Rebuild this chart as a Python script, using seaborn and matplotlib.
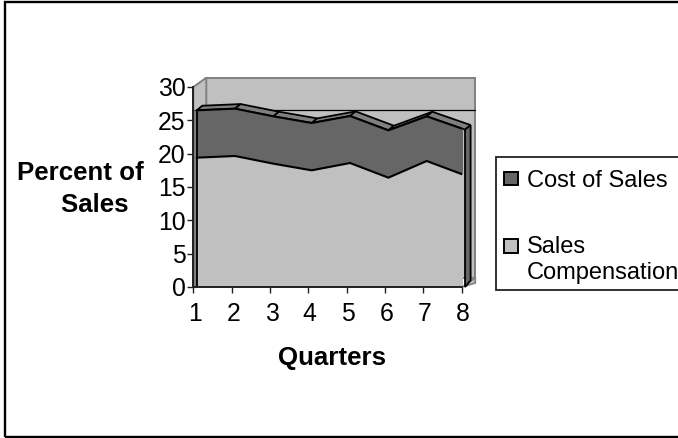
import matplotlib
matplotlib.use("Agg")
import matplotlib.pyplot as plt
from matplotlib.legend_handler import HandlerPatch
from matplotlib.patches import Patch, Polygon, Rectangle
from matplotlib.transforms import ScaledTranslation
import numpy as np
import pandas as pd
import seaborn as sns

quarters = [1, 2, 3, 4, 5, 6, 7, 8]
sales_compensation = [19.4, 19.65, 18.5, 17.5, 18.6, 16.4, 18.9, 16.75]
total_with_cost = [26.5, 26.75, 25.6, 24.6, 25.65, 23.5, 25.6, 23.6]
y_ticks = [0, 5, 10, 15, 20, 25, 30]
series_names = ["Cost of Sales", "Sales\nCompensation"]

DARK, LIGHT, TOP, WALL = "#666666", "#c0c0c0", "#808080", "#808080"
W, H = 678, 438
FS_LEGEND, FS_TICK, FS_BOLD = 17.0, 17.8, 18.6

sns.set_theme(style="white")
plt.rcParams["font.family"] = ["Liberation Sans", "DejaVu Sans"]

df = pd.DataFrame({"q": quarters, "comp": sales_compensation, "total": total_with_cost})

fig = plt.figure(figsize=(W / 100, H / 100), dpi=100, facecolor="white")
left_px, right_px, bottom_px, top_px = 193.3, 462.3, 287.0, 87.0
ax = fig.add_axes([left_px / W, 1 - bottom_px / H, (right_px - left_px) / W, (bottom_px - top_px) / H])
ax.patch.set_alpha(0)

px = 1 / 38.33   # data units per pixel in x
py = 30 / 200.0  # data units per pixel in y
tick_shift = 3.4 * px
ax.set_xlim(1 - tick_shift, 1 - tick_shift + (right_px - left_px) * px)
ax.set_ylim(0, 30)

xmin, xmax = ax.get_xlim()
wall_dx, wall_dy = 13 * px, 9.3 * py
face_dx, face_dy = 5.6 * px, 4.6 * py


def poly(points, **kw):
    p = Polygon(points, closed=True, clip_on=False, **kw)
    ax.add_patch(p)


# walls
poly([(xmin + wall_dx, wall_dy), (xmax + wall_dx, wall_dy), (xmax + wall_dx, 30 + wall_dy), (xmin + wall_dx, 30 + wall_dy)],
     facecolor=LIGHT, edgecolor=WALL, lw=1.4, zorder=1)
poly([(xmin, 0), (xmin + wall_dx, wall_dy), (xmin + wall_dx, 30 + wall_dy), (xmin, 30)],
     facecolor=LIGHT, edgecolor=WALL, lw=1.4, zorder=1)
poly([(xmax, 0), (xmax + wall_dx, wall_dy), (xmax + wall_dx, 0.6)], facecolor=LIGHT, edgecolor=WALL, lw=1.2, zorder=1)
ax.plot([xmax - 190 * px, xmax + wall_dx], [total_with_cost[0]] * 2, color="black", lw=0.9, zorder=1.5, clip_on=False)

# top faces of the depth band
x = df["q"].to_numpy(float)
tot = df["total"].to_numpy()
for i in range(len(x) - 1):
    poly([(x[i], tot[i]), (x[i + 1], tot[i + 1]),
          (x[i + 1] + face_dx, tot[i + 1] + face_dy), (x[i] + face_dx, tot[i] + face_dy)],
         facecolor=TOP, edgecolor="black", lw=1.3, zorder=2)

# side faces
poly([(x[-1], 0), (x[-1] + face_dx, 1.0), (x[-1] + face_dx, tot[-1] + face_dy), (x[-1], tot[-1])],
     facecolor=DARK, edgecolor="black", lw=1.3, zorder=2)
poly([(xmin, 0), (x[0], 0), (x[0], tot[0]), (xmin, tot[0])],
     facecolor=TOP, edgecolor="#404040", lw=0.8, zorder=2)

# front areas
ax.fill_between(df["q"], df["comp"], df["total"], color=DARK, lw=0, zorder=3)
ax.fill_between(df["q"], 0, df["comp"], color=LIGHT, lw=0, zorder=3)
sns.lineplot(data=df, x="q", y="total", color="black", lw=1.5, ax=ax, zorder=4)
sns.lineplot(data=df, x="q", y="comp", color="black", lw=1.5, ax=ax, zorder=4)
ax.plot([x[0], x[0]], [0, tot[0]], color="black", lw=1.3, zorder=4)
ax.plot([x[-1], x[-1]], [0, tot[-1]], color="black", lw=1.3, zorder=4)
ax.plot([x[0], x[-1]], [0, 0], color="black", lw=1.3, zorder=4)

# axes
for side in ("top", "right"):
    ax.spines[side].set_visible(False)
for side in ("left", "bottom"):
    ax.spines[side].set_color("#222222")
    ax.spines[side].set_linewidth(1.4)
    ax.spines[side].set_zorder(5)
ax.set_xticks(np.array(quarters) - tick_shift, [str(q) for q in quarters])
ax.set_yticks(y_ticks, [str(v) for v in y_ticks])
ax.tick_params(axis="both", which="major", direction="out", length=4, width=1.0,
               color="#222222", labelsize=FS_TICK, labelcolor="black", pad=1.5,
               bottom=True, left=True)
ax.tick_params(axis="x", pad=6.5)
nudge = ScaledTranslation(1.5 / 100, 0, fig.dpi_scale_trans)
for lab in ax.get_xticklabels():
    lab.set_transform(lab.get_transform() + nudge)

ax.set_xlabel("Quarters", fontsize=FS_BOLD, fontweight="bold", color="black")
ax.xaxis.set_label_coords((332 - left_px) / (right_px - left_px), (bottom_px - 358) / (bottom_px - top_px))
ax.xaxis.label.set_va("center")
ax.set_ylabel("Percent of\n    Sales", fontsize=FS_BOLD, fontweight="bold", color="black",
              rotation=0, ha="center", va="center", linespacing=1.45)
ax.yaxis.set_label_coords((80.5 - left_px) / (right_px - left_px), (bottom_px - 189) / (bottom_px - top_px))


# legend: swatch sits on the first text line of a wrapped label
def swatch(legend, orig_handle, xdescent, ydescent, width, height, fontsize):
    shift = fontsize * 0.58 if "\n" in orig_handle.get_label() else 0
    side = 9.7
    return Rectangle((-3.2, (height - side) / 2 - ydescent + shift + 0.5), side, side)


fig.add_artist(Rectangle((495.5 / W, 1 - 290 / H), (W + 10 - 495.5) / W, 133 / H,
                         transform=fig.transFigure, facecolor="white",
                         edgecolor="#222222", lw=1.3, zorder=2))
handles = [Patch(facecolor=DARK, edgecolor="black", lw=1.4, label=series_names[0]),
           Patch(facecolor=LIGHT, edgecolor="black", lw=1.4, label=series_names[1])]
leg = fig.legend(handles=handles, loc="upper left",
                 bbox_to_anchor=(495.5 / W, 1 - 157 / H), bbox_transform=fig.transFigure,
                 fontsize=FS_LEGEND, frameon=False,
                 borderaxespad=0, borderpad=0.56, labelspacing=1.87, handlelength=0.56,
                 handletextpad=0.2, labelcolor="black",
                 handler_map={Patch: HandlerPatch(patch_func=swatch)})
leg.set_zorder(3)

# page border: left, top and bottom only reach the picture; the right side runs off it
fig.add_artist(Rectangle((5.3 / W, 1 - 436.8 / H), (W + 10) / W, 435.3 / H, transform=fig.transFigure,
                         fill=False, edgecolor="black", lw=1.7, zorder=20))

fig.savefig("out.png", dpi=100)
